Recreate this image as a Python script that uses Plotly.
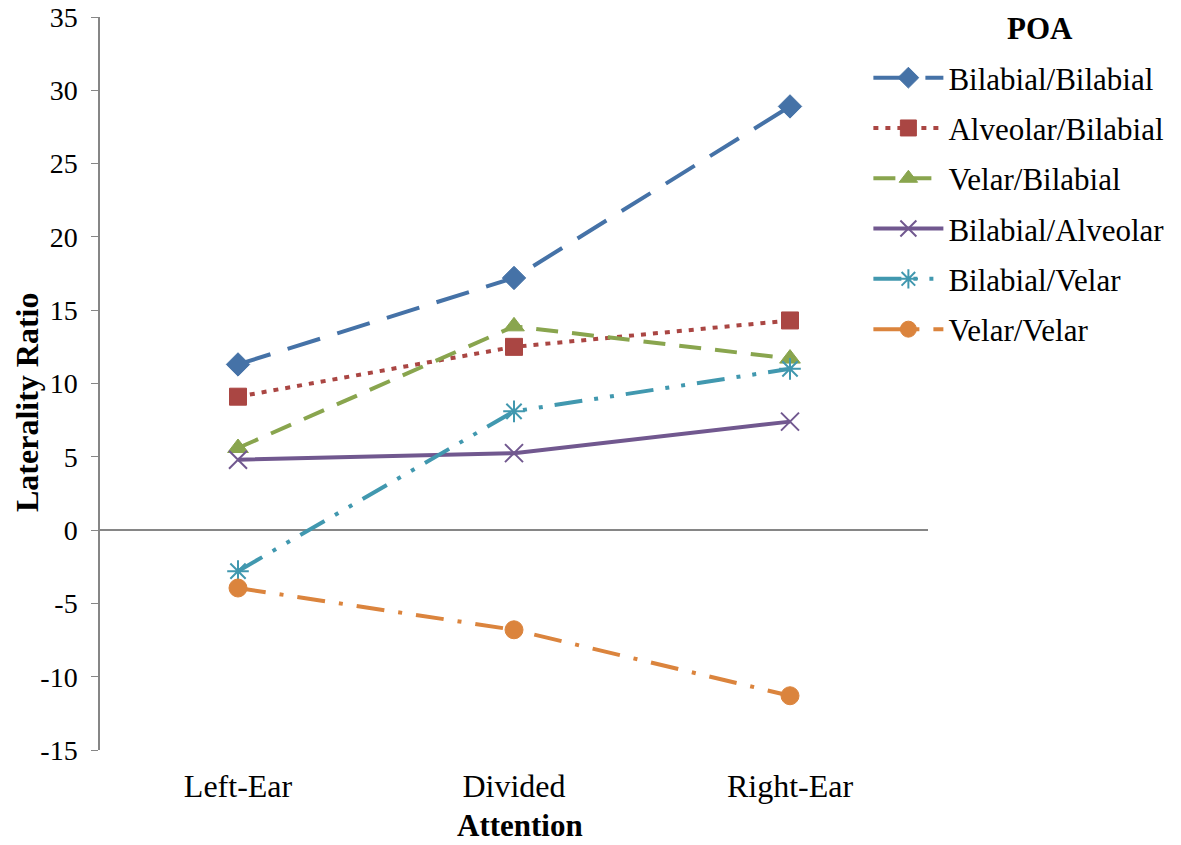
import plotly.graph_objects as go

attention = ["Left-Ear", "Divided", "Right-Ear"]

bilabial_bilabial = [11.3, 17.2, 28.9]
alveolar_bilabial = [9.1, 12.5, 14.3]
velar_bilabial = [5.6, 13.9, 11.7]
bilabial_alveolar = [4.8, 5.25, 7.4]
bilabial_velar = [-2.8, 8.1, 11.0]
velar_velar = [-3.95, -6.8, -11.3]

y_ticks = [-15, -10, -5, 0, 5, 10, 15, 20, 25, 30, 35]
y_tick_text = ["-15", "-10", "-5", "0", "5", "10", "15", "20", "25", "30", "35"]

series = [
    ("Bilabial/Bilabial", bilabial_bilabial, "#4572A7", "34px,18px", "diamond", 18, 1),
    ("Alveolar/Bilabial", alveolar_bilabial, "#AA4643", "5px,7px", "square", 17, 1),
    ("Velar/Bilabial", velar_bilabial, "#89A54E", "22px,14px", "triangle-up", 18, 1),
    ("Bilabial/Alveolar", bilabial_alveolar, "#71588F", "solid", "x-thin-open", 18, 2),
    ("Bilabial/Velar", bilabial_velar, "#4198AF", "28px,12px,4px,12px,4px,12px", "asterisk-open", 18, 2),
    ("Velar/Velar", velar_velar, "#DB843D", "28px,14px,4px,14px", "circle", 18, 1),
]

fig = go.Figure()
for name, vals, color, dash, symbol, size, mlw in series:
    fig.add_trace(go.Scatter(
        x=attention, y=vals, name=name, mode="lines+markers", legendgroup=name,
        line=dict(color=color, width=4, dash=dash),
        marker=dict(symbol=symbol, size=size, color=color,
                    line=dict(color=color, width=mlw)),
    ))

serif = "Liberation Serif"

fig.update_layout(
    width=1181, height=845,
    margin=dict(l=100, r=253, t=17, b=95),
    plot_bgcolor="white", paper_bgcolor="white",
    font=dict(family=serif, size=28, color="black"),
    showlegend=True,
    legend=dict(x=0.928, y=0.9536, xanchor="left", yanchor="top",
                font=dict(family=serif, size=31, color="black"),
                itemwidth=70, tracegroupgap=7, bgcolor="rgba(0,0,0,0)"),
    xaxis=dict(
        type="category", range=[-0.5, 2.5], showline=False, showgrid=False,
        zeroline=False, ticks="", tickfont=dict(family=serif, size=32),
        ticklabelstandoff=14, automargin=False,
    ),
    yaxis=dict(
        range=[-15, 35], tickvals=y_ticks, ticktext=y_tick_text, showgrid=False,
        showline=True, linecolor="#868686", linewidth=1.5,
        ticks="outside", ticklen=7, tickcolor="#868686",
        zeroline=True, zerolinecolor="#868686", zerolinewidth=1.5,
        tickfont=dict(family=serif, size=28), ticklabelstandoff=8, automargin=False,
    ),
    annotations=[
        dict(text="<b>POA</b>", showarrow=False, font=dict(family=serif, size=31),
             xref="paper", yref="paper", xanchor="center", yanchor="middle"),
        dict(text="<b>Attention</b>", showarrow=False, font=dict(family=serif, size=31),
             xref="paper", yref="paper", xanchor="center", yanchor="middle"),
        dict(text="<b>Laterality Ratio</b>", textangle=-90, showarrow=False,
             font=dict(family=serif, size=32),
             xref="paper", yref="paper", xanchor="center", yanchor="middle"),
    ],
)

# title positions in pixels, converted relative to the plot area (100..928 x, 17..750 y)
def px_x(p):
    return (p - 100) / 828

def px_y(p):
    return (750 - p) / 733

fig.layout.annotations[0].update(x=px_x(1040), y=px_y(29))
fig.layout.annotations[1].update(x=px_x(520), y=px_y(825))
fig.layout.annotations[2].update(x=px_x(27), y=px_y(402))

fig.write_html("out.html")
